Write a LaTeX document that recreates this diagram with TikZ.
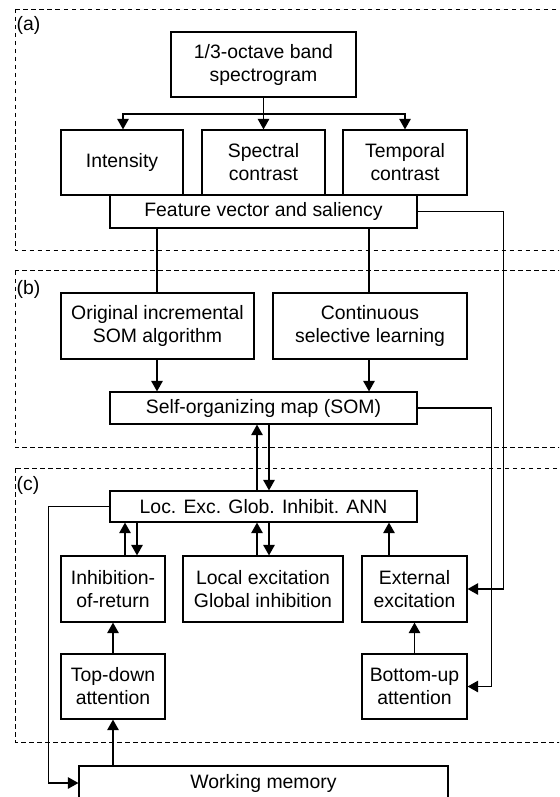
\documentclass[tikz,border=0pt]{standalone}
\usepackage{fontspec}
\setmainfont{Liberation Sans}
\usetikzlibrary{arrows.meta,calc}
\begin{document}
\begin{tikzpicture}[x=1pt,y=-1pt,
  every node/.style={font=\fontsize{19.4}{23}\selectfont},
  box/.style={draw,line width=1.2pt,align=center,inner sep=0pt,fill=white},
  region/.style={draw,dash pattern=on 4.5pt off 3.5pt,line width=0.9pt},
  arr/.style={line width=1.2pt,-{Triangle[length=10.5pt,width=11.5pt]}},
  ln/.style={line width=1.2pt},
  lab/.style={anchor=west,inner sep=0pt}]
\useasboundingbox (0,0) rectangle (559,797);
\clip (0,0) rectangle (559,797);
% regions
\draw[region] (15,9) rectangle (580,250.5);
\draw[region] (15,270.7) rectangle (580,447.5);
\draw[region] (15,468) rectangle (580,742);
\node[lab] (la) at (16.5,25.5) {(a)};
\node[lab] (lb) at (16.5,289) {(b)};
\node[lab] (lc) at (16.5,485) {(c)};
% boxes
\node[box,minimum width=185pt,minimum height=65pt] (spec) at (263.5,64.5) {1/3-octave band\\spectrogram};
\node[box,minimum width=122pt,minimum height=65pt] (int) at (122,162.5) {Intensity};
\node[box,minimum width=123pt,minimum height=65pt] (spc) at (263.5,162.5) {Spectral\\contrast};
\node[box,minimum width=124pt,minimum height=65pt] (tmp) at (405,162.5) {Temporal\\contrast};
\node[box,minimum width=307pt,minimum height=33pt] (feat) at (263.5,211.5) {Feature vector and saliency};
\node[box,minimum width=193pt,minimum height=66pt] (orig) at (157.5,326) {Original incremental\\SOM algorithm};
\node[box,minimum width=194pt,minimum height=66pt] (cont) at (370,326) {Continuous\\selective learning};
\node[box,minimum width=307pt,minimum height=32pt] (som) at (263.5,408) {Self-organizing map (SOM)};
\node[box,minimum width=307pt,minimum height=31pt] (ann) at (263.5,506.5) {Loc. Exc. Glob. Inhibit. ANN};
\node[box,minimum width=104pt,minimum height=66pt] (inh) at (113,589) {Inhibition-\\of-return};
\node[box,minimum width=160pt,minimum height=66pt] (loc) at (263,589) {Local excitation\\Global inhibition};
\node[box,minimum width=105pt,minimum height=66pt] (ext) at (414.5,589) {External\\excitation};
\node[box,minimum width=104pt,minimum height=65pt] (top) at (113,686.5) {Top-down\\attention};
\node[box,minimum width=105pt,minimum height=65pt] (bot) at (414.5,686.5) {Bottom-up\\attention};
\node[box,minimum width=369pt,minimum height=34pt] (wm) at (263.5,783) {Working memory};
% connectors
\coordinate (sp) at (263.5,114);
\draw[arr] (spec.south) -- (spc.north);
\draw[arr] (sp) -| ([xshift=1pt]int.north);
\draw[arr] (sp) -| (tmp.north);
\draw[ln] ([xshift=-0.5pt]orig.north) -- ([xshift=-0.5pt]orig.north |- feat.south);
\draw[ln] ([xshift=-1pt]cont.north) -- ([xshift=-1pt]cont.north |- feat.south);
\draw[arr] ([xshift=-0.5pt]orig.south) -- ([xshift=-0.5pt]orig.south |- som.north);
\draw[arr] ([xshift=-1pt]cont.south) -- ([xshift=-1pt]cont.south |- som.north);
\draw[arr] (feat.east) -- ++(86,0) |- (ext.east);
\draw[arr] (som.east) -- ++(74,0) |- (bot.east);
\draw[arr] ([xshift=-6.5pt]ann.north) -- ([xshift=-6.5pt]som.south);
\draw[arr] ([xshift=5.5pt]som.south) -- ([xshift=5.5pt]ann.north);
\draw[arr] ([xshift=12pt]inh.north) -- ([xshift=12pt]inh.north |- ann.south);
\draw[arr] ([xshift=24pt]inh.north |- ann.south) -- ([xshift=24pt]inh.north);
\draw[arr] ([xshift=-6pt]loc.north) -- ([xshift=-6pt]loc.north |- ann.south);
\draw[arr] ([xshift=6pt]loc.north |- ann.south) -- ([xshift=6pt]loc.north);
\draw[arr] ([xshift=-25.5pt]ext.north) -- ([xshift=-25.5pt]ext.north |- ann.south);
\draw[arr] (top.north) -- (inh.south);
\draw[arr] (bot.north) -- (ext.south);
\draw[arr] (top.south |- wm.north) -- (top.south);
\draw[arr] (ann.west) -- ++(-61,0) |- (wm.west);
\end{tikzpicture}
\end{document}
